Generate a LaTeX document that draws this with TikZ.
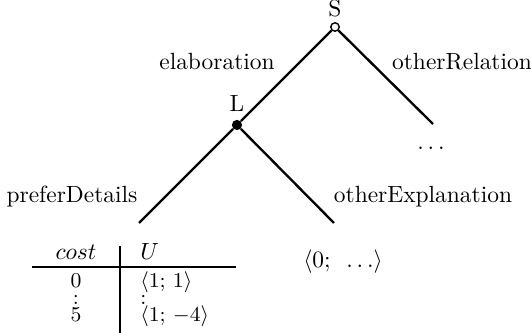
\documentclass[tikz,border=0pt]{standalone}
\usepackage{tikz}
\usetikzlibrary{positioning}
\tikzset{
  branch/.style={line width=1pt,draw=black},
  opennode/.style={circle,draw=black,line width=0.6pt,fill=white,
                   inner sep=0pt,minimum size=3.6pt},
  chancenode/.style={circle,fill=black,inner sep=0pt,minimum size=4.4pt},
  edgelabel/.style={font=\normalsize,inner sep=1pt},
  cell/.style={inner sep=0pt,anchor=base,font=\small},
  cellleft/.style={inner sep=0pt,anchor=base west,font=\small},
}

\begin{document}
\begin{tikzpicture}[x=0.015cm,y=-0.015cm]
  \useasboundingbox (0,0) rectangle (531,333);
  % decision tree: root S, chance node L
  \node[opennode,label={[inner sep=1pt,label distance=1pt]above:S}] (s) at (335,27) {};
  \node[chancenode,label={[inner sep=1pt,label distance=2pt]above:L}] (l) at (237,125) {};
  \coordinate (rest) at (433,124);
  \coordinate (pref) at (139,223);
  \coordinate (expl) at (334,223);
  \draw[branch] (s) -- (l);
  \draw[branch] (s) -- (rest);
  \draw[branch] (l) -- (pref);
  \draw[branch] (l) -- (expl);
  % branch labels
  \node[edgelabel] (elab) at (217,62) {elaboration};
  \node[edgelabel] (orel) at (462,62) {otherRelation};
  \node[edgelabel] (pdet) at (72,197) {preferDetails};
  \node[edgelabel] (oexp) at (423,197) {otherExplanation};
  % leaves
  \node[edgelabel,anchor=base] (dots) at (431,150) {$\ldots$};
  \node[edgelabel] (util) at (343,262) {$\langle 0;\ \,\ldots\rangle$};
  % cost table under preferDetails
  \node[cell,font=\normalsize] (hcost) at (76,260) {$cost$};
  \node[cellleft,font=\normalsize] (hu) at (140,260) {$U$};
  \node[cell] (c0) at (76,288) {0};
  \node[cellleft] (u0) at (140,288) {$\langle 1;\,1\rangle$};
  \node[cell] (c1) at (76,305) {:};
  \node[cellleft] (u1) at (140,305) {:};
  \node[cell] (c5) at (76,322) {5};
  \node[cellleft] (u5) at (140,322) {$\langle 1;\,-4\rangle$};
  \draw[line width=1.1pt] (32,267) -- (236,267);
  \draw[line width=0.8pt] (120,246) -- (120,333);
\end{tikzpicture}
\end{document}
